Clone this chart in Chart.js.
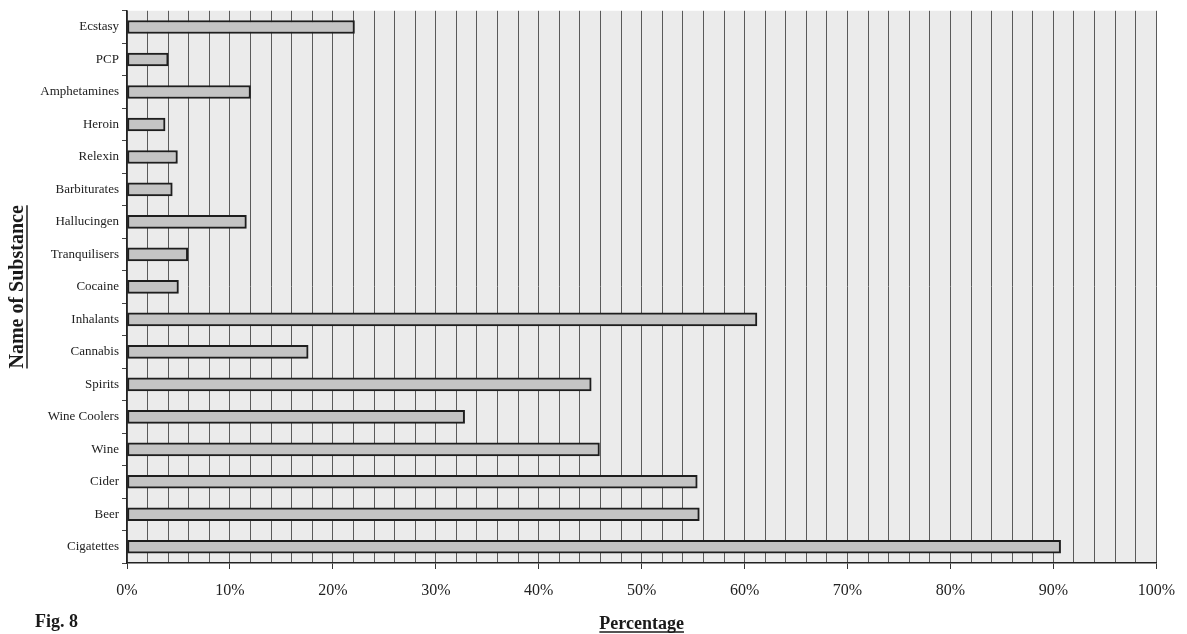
<!DOCTYPE html>
<html>
<head>
<meta charset="utf-8">
<script src="https://cdn.jsdelivr.net/npm/chart.js@4/dist/chart.umd.min.js"></script>
<style>
  html, body { margin: 0; padding: 0; background: #ffffff; }
  #wrap { width: 1187px; height: 634px; position: relative; }
</style>
</head>
<body>
<div id="wrap"><canvas id="chart" width="1187" height="634"></canvas></div>
<script>
// Substances, listed top to bottom
const substances = [
  'Ecstasy', 'PCP', 'Amphetamines', 'Heroin', 'Relexin', 'Barbiturates',
  'Hallucingen', 'Tranquilisers', 'Cocaine', 'Inhalants', 'Cannabis',
  'Spirits', 'Wine Coolers', 'Wine', 'Cider', 'Beer', 'Cigatettes'
];

// Share of respondents (%) for each substance
const percentages = [
  22.1, 4.0, 12.0, 3.7, 4.9, 4.4,
  11.6, 5.9, 5.0, 61.2, 17.6,
  45.1, 32.8, 45.9, 55.4, 55.6, 90.7
];

// Percentage axis: gridline every 2, label every 10
const axisMin = 0;
const axisMax = 100;
const gridStep = 2;
const labelStep = 10;

const yTitle = 'Name of Substance';
const xTitle = 'Percentage';
const figLabel = 'Fig. 8';

const serif = "'Liberation Serif', 'DejaVu Serif', serif";

// Pale plot background
const plotBackground = {
  id: 'plotBackground',
  beforeDraw(chart) {
    const { ctx, chartArea: a } = chart;
    ctx.save();
    ctx.fillStyle = '#ebebeb';
    ctx.fillRect(a.left, a.top, a.right - a.left, a.bottom - a.top);
    ctx.restore();
  }
};

// Underlined bold titles and the figure label
const titles = {
  id: 'titles',
  afterDraw(chart) {
    const { ctx, chartArea: a } = chart;
    ctx.save();
    ctx.fillStyle = '#1a1a1a';
    ctx.strokeStyle = '#1a1a1a';
    ctx.lineWidth = 1.5;

    // vertical axis title
    ctx.font = 'bold 20px ' + serif;
    ctx.textAlign = 'center';
    ctx.textBaseline = 'middle';
    const cy = (a.top + a.bottom) / 2;
    ctx.translate(18, cy);
    ctx.rotate(-Math.PI / 2);
    ctx.fillText(yTitle, 0, 0);
    let w = ctx.measureText(yTitle).width;
    ctx.beginPath();
    ctx.moveTo(-w / 2, 9);
    ctx.lineTo(w / 2, 9);
    ctx.stroke();
    ctx.setTransform(1, 0, 0, 1, 0, 0);

    // horizontal axis title
    ctx.font = 'bold 18px ' + serif;
    ctx.textAlign = 'center';
    ctx.textBaseline = 'middle';
    const cx = (a.left + a.right) / 2;
    ctx.fillText(xTitle, cx, 624);
    w = ctx.measureText(xTitle).width;
    ctx.beginPath();
    ctx.moveTo(cx - w / 2, 632);
    ctx.lineTo(cx + w / 2, 632);
    ctx.stroke();

    // figure label
    ctx.font = 'bold 18px ' + serif;
    ctx.textAlign = 'left';
    ctx.fillText(figLabel, 35, 622);
    ctx.restore();
  }
};

new Chart(document.getElementById('chart'), {
  type: 'bar',
  data: {
    labels: substances,
    datasets: [{
      data: percentages,
      backgroundColor: '#c4c4c4',
      borderColor: '#1e1e1e',
      borderWidth: 2,
      borderSkipped: false,
      barThickness: 13
    }]
  },
  options: {
    indexAxis: 'y',
    responsive: false,
    animation: false,
    layout: { padding: { top: 10, right: 27, left: 0, bottom: 0 } },
    plugins: {
      legend: { display: false },
      tooltip: { enabled: false }
    },
    scales: {
      x: {
        type: 'linear',
        min: axisMin,
        max: axisMax,
        afterFit(scale) { scale.height = 71; },
        ticks: {
          stepSize: gridStep,
          autoSkip: false,
          maxRotation: 0,
          padding: 12,
          color: '#222',
          font: { family: serif, size: 16 },
          callback: v => (v % labelStep === 0 ? v + '%' : '')
        },
        grid: {
          color: '#5a5a5a',
          lineWidth: 1,
          tickLength: 6,
          tickColor: ctx => (ctx.tick && ctx.tick.value % labelStep === 0 ? '#333' : 'rgba(0,0,0,0)')
        },
        border: { display: true, color: '#222', width: 1.5 }
      },
      y: {
        afterFit(scale) { scale.width = 127; },
        ticks: {
          padding: 3,
          color: '#222',
          font: { family: serif, size: 13 }
        },
        grid: {
          offset: true,
          drawOnChartArea: false,
          tickLength: 5,
          tickColor: '#444'
        },
        border: { display: true, color: '#222', width: 1.5 }
      }
    }
  },
  plugins: [plotBackground, titles]
});
</script>
</body>
</html>
